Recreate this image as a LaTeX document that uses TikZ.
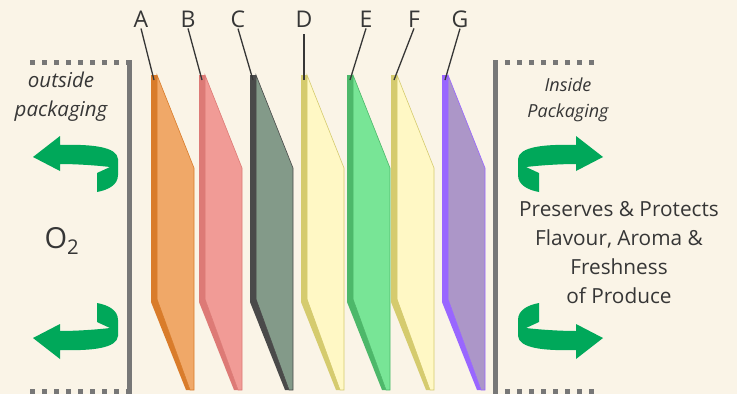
\documentclass[tikz,border=0pt]{standalone}
\usepackage{fontspec}
\setmainfont{Open Sans}
\usepackage{xcolor}
\usetikzlibrary{calc}

\definecolor{bgcream}{HTML}{FAF4E7}
\definecolor{wallgray}{HTML}{777777}
\definecolor{inkgray}{HTML}{363636}
\definecolor{turngreen}{HTML}{00A85A}
\definecolor{stripA}{HTML}{D97C2B}
\definecolor{faceA}{HTML}{F0A868}
\definecolor{stripB}{HTML}{DD7A76}
\definecolor{faceB}{HTML}{F19B96}
\definecolor{stripC}{HTML}{4A4A4A}
\definecolor{faceC}{HTML}{839A89}
\definecolor{stripD}{HTML}{D5CB6E}
\definecolor{faceD}{HTML}{FFF8C5}
\definecolor{stripE}{HTML}{4DB86A}
\definecolor{faceE}{HTML}{78E596}
\definecolor{stripG}{HTML}{9966FF}
\definecolor{faceG}{HTML}{AC96C8}

\begin{document}
\begin{tikzpicture}[x=1pt,y=-1pt,
        wall/.style={draw=wallgray,line width=5pt},
        dots/.style={draw=wallgray,line width=5pt,dash pattern=on 5pt off 7pt},
        lettertext/.style={text=inkgray,font=\fontsize{23}{26}\selectfont,inner sep=1pt},
        leader/.style={draw=inkgray,line width=1.3pt},
        sidetext/.style={text=inkgray,align=center},
        uturn/.pic={
            \fill[turngreen] (0,0) -- (27,-21) -- (27,-12)
                .. controls (60,-13) and (84,-10) .. (85,2) -- (85,18)
                .. controls (85,28) and (75,33) .. (64,35) -- (64,16) -- (77,10)
                .. controls (60,8) and (40,7) .. (27,7) -- (27,14) -- cycle;
        }]
        % background and page size
        \fill[bgcream] (0,0) rectangle (737,394);
        \useasboundingbox (0,0) rectangle (737,394);

        % draw the packaging walls
        \draw[wall] (129.5,60) -- (129.5,394);
        \draw[wall] (495.5,60) -- (495.5,394);
        \draw[dots] (30,62.5) -- (127,62.5);
        \draw[dots] (30,391) -- (127,391);
        \draw[dots] (505,62.5) -- (600,62.5);
        \draw[dots] (505,391) -- (600,391);

        % draw the film layers and their letters
        \foreach \x/\n/\lx/\gap/\side/\face in {
            151/A/141/0/stripA/faceA,
            199/B/188/0/stripB/faceB,
            250/C/238/0/stripC/faceC,
            301/D/304/6/stripD/faceD,
            347/E/366/0/stripE/faceE,
            391/F/414/0/stripD/faceD,
            442/G/460/0/stripG/faceG} {
                % front face of the layer
                \filldraw[fill=\face,draw=\side,line width=0.6pt]
                    (\x+6,75) -- (\x+43,168) -- (\x+43,390) -- (\x+39,390) -- (\x+6,299) -- cycle;
                % edge of the layer
                \fill[\side] (\x,75) -- (\x+6,75) -- (\x+6,299) -- (\x+39,390) -- (\x+35,390) -- (\x,302) -- cycle;
                \coordinate (top\n) at (\x+3,80);
                \node[lettertext] (lbl\n) at (\lx,19) {\n};
                \draw[leader,shorten <=\gap pt] (lbl\n.south) -- (top\n);
        }

        % the turning arrows
        \pic at (33,157) {uturn};
        \pic[yscale=-1] at (33,338) {uturn};
        \pic[xscale=-1] at (603,157) {uturn};
        \pic[xscale=-1,yscale=-1] at (603,338) {uturn};

        % the texts on both sides
        \node[sidetext,font=\itshape\fontsize{20.5}{29}\selectfont] (outside) at (61,97) {outside\\packaging};
        \node[sidetext,font=\itshape\fontsize{18}{26}\selectfont] (inside) at (568,100) {Inside\\Packaging};
        \node[sidetext,font=\fontsize{29}{32}\selectfont] (oxygen) at (62,241) {O\textsubscript{2}};
        \node[sidetext,font=\fontsize{20.8}{29}\selectfont] (keeps) at (619,253)
            {Preserves \& Protects\\Flavour, Aroma \&\\Freshness\\of Produce};
\end{tikzpicture}
\end{document}
